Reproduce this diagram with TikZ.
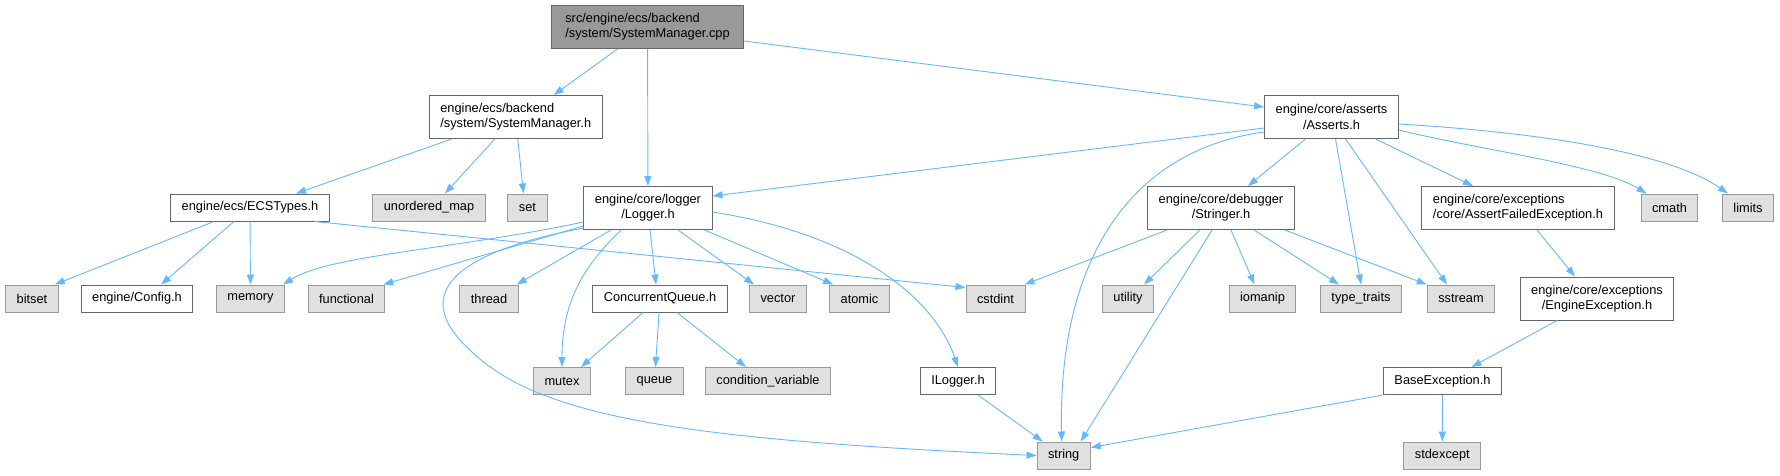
\documentclass[tikz,border=0pt]{standalone}
\usepackage{fontspec}
\setmainfont{Liberation Sans}
\usepackage{tikz}
\usetikzlibrary{arrows.meta}
\definecolor{edgeblue}{HTML}{63B8FF}
\definecolor{hline}{HTML}{666666}
\definecolor{xline}{HTML}{999999}
\definecolor{xfill}{HTML}{E0E0E0}
\definecolor{rootfill}{HTML}{999999}
\newcommand\dxfont{\fontsize{12.8pt}{15.3pt}\selectfont}
\tikzset{
  hbox/.style={draw=hline, fill=white, line width=1pt, font=\dxfont, inner xsep=11pt, inner ysep=0pt, minimum height=27pt},
  hbox2/.style={hbox, minimum height=43pt, align=center},
  xbox/.style={draw=xline, fill=xfill, line width=1pt, font=\dxfont, inner xsep=11pt, inner ysep=0pt, minimum height=27pt},
  rootbox/.style={hbox2, fill=rootfill, align=left, inner xsep=14pt},
  farr/.style={-{Triangle[length=10pt,width=7pt]}, draw=edgeblue, line width=0.9pt}
}

\begin{document}
\begin{tikzpicture}[x=1pt,y=-1pt]
\useasboundingbox (0,0) rectangle (1780,475);
\node[rootbox] (root) at (647.5,27) {src/engine/ecs/backend\\/system/SystemManager.cpp};
\node[hbox2, align=left] (sysmgr) at (515.75,117) {engine/ecs/backend\\/system/SystemManager.h};
\node[hbox2] (asserts) at (1331.5,117) {engine/core/asserts\\/Asserts.h};
\node[hbox] (ecstypes) at (250,207.5) {engine/ecs/ECSTypes.h};
\node[xbox] (umap) at (429,207.5) {unordered\_map};
\node[xbox] (set) at (527.5,207.5) {set};
\node[hbox2] (logger) at (648,208) {engine/core/logger\\/Logger.h};
\node[hbox2] (stringer) at (1221,208) {engine/core/debugger\\/Stringer.h};
\node[hbox2, align=left] (afe) at (1518,208) {engine/core/exceptions\\/core/AssertFailedException.h};
\node[xbox] (cmath) at (1669.5,207.5) {cmath};
\node[xbox] (limits) at (1748,207.5) {limits};
\node[xbox] (bitset) at (32,298.5) {bitset};
\node[hbox] (config) at (137,298.5) {engine/Config.h};
\node[xbox] (memory) at (250.5,298.5) {memory};
\node[xbox] (functional) at (346.5,298.5) {functional};
\node[xbox] (thread) at (489,298.5) {thread};
\node[hbox] (cqueue) at (660,298.5) {ConcurrentQueue.h};
\node[xbox] (vector) at (778,298.5) {vector};
\node[xbox] (atomic) at (859.5,298.5) {atomic};
\node[xbox] (cstdint) at (995.5,298.5) {cstdint};
\node[xbox] (utility) at (1128,298.5) {utility};
\node[xbox] (iomanip) at (1262.5,298.5) {iomanip};
\node[xbox] (typetraits) at (1361,298.5) {type\_traits};
\node[xbox] (sstream) at (1461,298.5) {sstream};
\node[hbox2] (engexc) at (1597,298.5) {engine/core/exceptions\\/EngineException.h};
\node[xbox] (mutex) at (562,381) {mutex};
\node[xbox] (queue) at (654.5,381) {queue};
\node[xbox] (condvar) at (768,381) {condition\_variable};
\node[hbox] (ilogger) at (958,381) {ILogger.h};
\node[hbox] (baseexc) at (1442.5,381) {BaseException.h};
\node[xbox] (string) at (1063.7,455.5) {string};
\node[xbox] (stdexcept) at (1442.3,455.5) {stdexcept};

\draw[farr] ([xshift=-30pt]root.south) -- ([xshift=38pt]sysmgr.north);
\draw[farr] (root) -- (logger);
\draw[farr] ([yshift=-14pt]root.east) -- ([yshift=10pt]asserts.west);
\draw[farr] ([xshift=-64pt]sysmgr.south) -- ([xshift=46pt]ecstypes.north);
\draw[farr] ([xshift=-21pt]sysmgr.south) -- ([xshift=16pt]umap.north);
\draw[farr] ([xshift=2pt]sysmgr.south) -- ([xshift=-4pt]set.north);
\draw[farr] ([xshift=-36pt]ecstypes.south) -- ([xshift=-4pt]bitset.north east);
\draw[farr] ([xshift=-16pt]ecstypes.south) -- ([xshift=24pt]config.north);
\draw[farr] (ecstypes) -- (memory);
\draw[farr] ([xshift=-15pt]ecstypes.south east) -- ([yshift=-3pt]cstdint.north west);
\draw[farr] ([yshift=-14pt]logger.west) .. controls (450,250) and (330,255) .. ([xshift=-2pt]memory.north east);
\draw[farr] ([yshift=-18pt]logger.west) -- ([xshift=-2pt]functional.north east);
\draw[farr] ([yshift=-20pt]logger.west) .. controls (440,255) and (415,300) .. (470,350) .. controls (540,420) and (700,440) .. (string.west);
\draw[farr] ([xshift=-37pt]logger.south) -- ([xshift=-2pt]thread.north east);
\draw[farr] ([xshift=-27pt]logger.south) .. controls (585,265) and (562,300) .. (mutex.north);
\draw[farr] ([xshift=2pt]logger.south) -- ([xshift=-4pt]cqueue.north);
\draw[farr] ([xshift=30pt]logger.south) -- ([xshift=5pt]vector.north west);
\draw[farr] ([xshift=-8pt]logger.south east) -- ([xshift=4pt]atomic.north west);
\draw[farr] ([yshift=-4pt]logger.east) .. controls (860,235) and (935,300) .. (ilogger.north);
\draw[farr] ([yshift=-11pt]asserts.west) -- ([yshift=12pt]logger.east);
\draw[farr] ([yshift=-15pt]asserts.west) .. controls (1130,150) and (1058,260) .. ([xshift=-2pt]string.north);
\draw[farr] ([xshift=-26pt]asserts.south) -- ([xshift=27pt]stringer.north);
\draw[farr] ([xshift=4pt]asserts.south) -- (typetraits.north);
\draw[farr] ([xshift=14pt]asserts.south) -- ([xshift=-14pt]sstream.north);
\draw[farr] ([xshift=44pt]asserts.south) -- ([xshift=-45pt]afe.north);
\draw[farr] ([yshift=-13pt]asserts.east) .. controls (1480,150) and (1600,165) .. ([xshift=6pt]cmath.north west);
\draw[farr] ([yshift=-7pt]asserts.east) .. controls (1580,135) and (1680,160) .. ([xshift=6pt]limits.north west);
\draw[farr] ([xshift=-54pt]stringer.south) -- ([xshift=-1pt]cstdint.north east);
\draw[farr] ([xshift=-21pt]stringer.south) -- ([xshift=16pt]utility.north);
\draw[farr] ([xshift=10pt]stringer.south) -- ([xshift=-8pt]iomanip.north);
\draw[farr] ([xshift=33pt]stringer.south) -- ([xshift=-22pt]typetraits.north);
\draw[farr] ([xshift=-10pt]stringer.south east) -- (sstream.north west);
\draw[farr] ([xshift=-9pt]stringer.south) -- ([xshift=17pt]string.north);
\draw[farr] ([xshift=-17pt]cqueue.south) -- ([xshift=19pt]mutex.north);
\draw[farr] (cqueue) -- (queue);
\draw[farr] ([xshift=17pt]cqueue.south) -- ([xshift=-22pt]condvar.north);
\draw[farr] ([xshift=20pt]ilogger.south) -- ([xshift=-21pt]string.north);
\draw[farr] ([xshift=19pt]afe.south) -- ([xshift=-22pt]engexc.north);
\draw[farr] ([xshift=-40pt]engexc.south) -- ([xshift=29pt]baseexc.north);
\draw[farr] (baseexc.south west) -- ([yshift=8pt]string.east);
\draw[farr] (baseexc) -- (stdexcept);
\end{tikzpicture}
\end{document}
